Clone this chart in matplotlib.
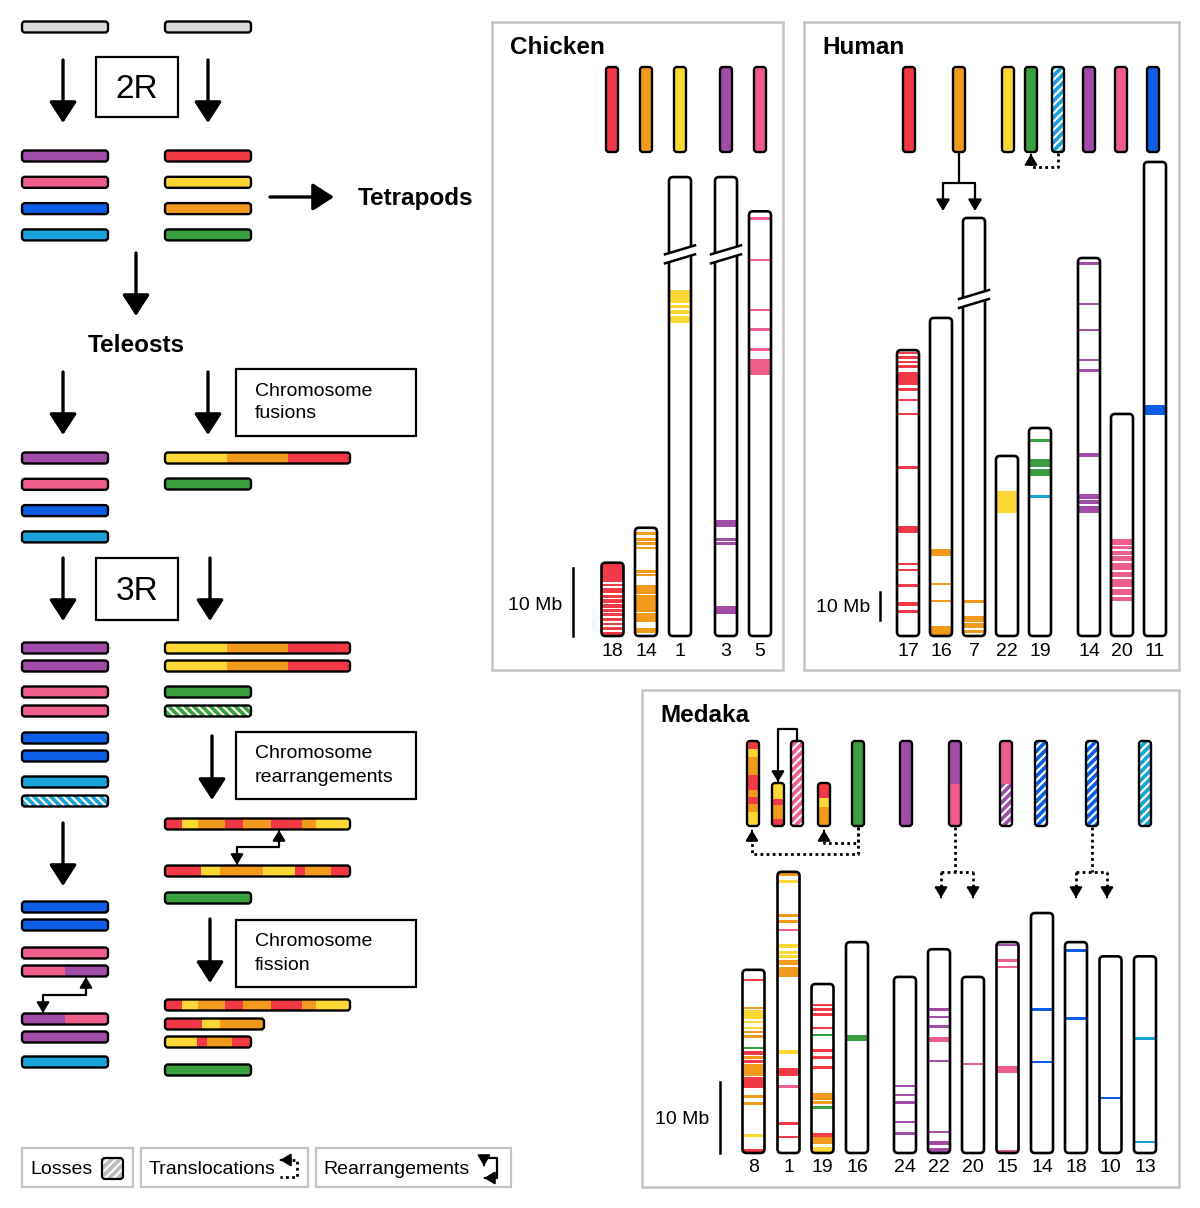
import matplotlib.pyplot as plt
from matplotlib.patches import FancyBboxPatch, Rectangle, Polygon

plt.rcParams['font.family'] = ['Liberation Sans', 'DejaVu Sans']
plt.rcParams['hatch.linewidth'] = 1.6

# colours of the ancestral chromosome groups
C = {'red': '#F13A45', 'orange': '#F19A1B', 'yellow': '#FDD733', 'green': '#3A9F3E',
     'purple': '#A04CA8', 'pink': '#EF5E8B', 'blue': '#0D5EE6', 'cyan': '#17A3D9',
     'grey': '#D9D9D9', 'lgrey': '#C4C4C4'}

# ---------------- left scheme: chromosome histories ----------------
after_2r_left = ['purple', 'pink', 'blue', 'cyan']
after_2r_right = ['red', 'yellow', 'orange', 'green']
teleost_left = ['purple', 'pink', 'blue', 'cyan']
fused = [('yellow', 1), ('orange', 1), ('red', 1)]
after_3r_left = [[('purple', 1)], [('purple', 1)], [('pink', 1)], [('pink', 1)],
                 [('blue', 1)], [('blue', 1)], [('cyan', 1)], [('cyan', 1, True)]]
rearr_a = [('red', .092), ('yellow', .085), ('orange', .145), ('red', .099),
           ('orange', .154), ('red', .168), ('orange', .073), ('yellow', .184)]
rearr_b = [('red', .195), ('yellow', .100), ('orange', .235), ('yellow', .172),
           ('red', .057), ('orange', .138), ('red', .103)]
fission_2 = [('red', .369), ('yellow', .185), ('orange', .446)]
fission_3 = [('yellow', .368), ('red', .116), ('orange', .291), ('red', .225)]
final_left = [[('blue', 1)], [('blue', 1)], [('pink', 1)], [('pink', 1), ('purple', 1)],
              [('purple', 1), ('pink', 1)], [('purple', 1)], [('cyan', 1)]]

# ---------------- chicken ----------------
chicken_top = [('red',), ('orange',), ('yellow',), ('purple',), ('pink',)]
chicken_names = ['18', '14', '1', '3', '5']
chicken_len = [10.7, 15.8, 67.0, 67.0, 62.0]      # Mb (1 and 3 shown broken)
chicken_break = [None, None, 10.7, 10.7, None]
chicken_bands = {
    '18': [(0.2, 2.8), (3.1, 3.4), (3.7, 4.4), (4.7, 5.1), (5.3, 5.9), (6.1, 6.6), (6.8, 7.2),
           (7.4, 7.8), (8.1, 8.5), (8.8, 9.1), (9.4, 9.8), (10.1, 10.55)],
    '14': [(0.6, 1.0), (1.5, 1.95), (2.05, 2.5), (2.8, 3.1), (6.2, 6.4), (6.7, 7.0), (8.3, 9.6),
           (9.75, 12.3), (12.5, 13.7), (14.6, 15.4)],
    '1': [(16.5, 18.4), (18.7, 19.1), (19.4, 20.0), (20.3, 21.3)],
    '3': [(50.1, 51.1), (52.7, 53.1), (53.3, 53.6), (62.6, 63.8)],
    '5': [(0.9, 1.3), (6.9, 7.3), (14.2, 14.6), (17.1, 17.5), (20.0, 20.3), (21.5, 23.9)],
}
chicken_color = ['red', 'orange', 'yellow', 'purple', 'pink']

# ---------------- human ----------------
human_top = [('red',), ('orange',), ('yellow',), ('green',), ('cyan', True),
             ('purple',), ('pink',), ('blue',)]
human_names = ['17', '16', '7', '22', '19', '14', '20', '11']
human_len = [102.1, 113.6, 149.3, 64.3, 74.3, 135.0, 79.3, 169.3]
human_break = [None, None, 27.5, None, None, None, None, None]
human_bands = {
    '17': [(0.6, 1.2, 'red'), (2.1, 3.0, 'red'), (3.8, 4.5, 'red'), (5.4, 6.2, 'red'),
           (7.7, 12.5, 'red'), (13.7, 14.3, 'red'), (17.3, 17.9, 'red'), (22.4, 22.9, 'red'),
           (41.4, 42.3, 'red'), (62.9, 65.2, 'red'), (76.0, 76.8, 'red'), (78.0, 78.6, 'red'),
           (83.7, 84.3, 'red'), (89.9, 91.4, 'red'), (92.9, 93.5, 'red')],
    '16': [(82.6, 85.0, 'orange'), (94.5, 95.1, 'orange'), (100.7, 101.3, 'orange'),
           (110.0, 113.6, 'orange')],
    '7': [(136.6, 137.2, 'orange'), (142.1, 144.2, 'orange'), (144.5, 146.5, 'orange'),
          (147.1, 148.3, 'orange')],
    '22': [(12.5, 20.4, 'yellow')],
    '19': [(4.1, 4.6, 'green'), (11.1, 13.9, 'green'), (14.8, 17.0, 'green'), (24.1, 24.6, 'cyan')],
    '14': [(1.5, 2.0, 'purple'), (16.0, 16.5, 'purple'), (25.2, 25.6, 'purple'),
           (36.0, 36.8, 'purple'), (39.7, 40.2, 'purple'), (69.8, 71.0, 'purple'),
           (84.2, 86.0, 'purple'), (86.4, 88.0, 'purple'), (88.4, 91.1, 'purple')],
    '20': [(44.8, 46.8, 'pink'), (47.3, 48.4, 'pink'), (48.9, 50.2, 'pink'), (50.7, 52.6, 'pink'),
           (53.2, 55.8, 'pink'), (56.4, 58.4, 'pink'), (59.0, 61.8, 'pink'), (62.4, 64.6, 'pink'),
           (65.3, 66.8, 'pink')],
    '11': [(86.8, 90.4, 'blue')],
}

# ---------------- medaka ----------------
medaka_top = [
    [('red', .09), ('yellow', .10), ('orange', .21), ('red', .18), ('orange', .08),
     ('red', .08), ('orange', .09), ('yellow', .17)],
    [('yellow', .37), ('red', .13), ('orange', .34), ('red', .16)],
    [('pink', 1, True)],
    [('red', .35), ('yellow', .2), ('orange', .45)],
    [('green', 1)],
    [('purple', 1)],
    [('purple', .5), ('pink', .5)],
    [('pink', .5), ('purple', .5, True)],
    [('blue', 1, True)],
    [('blue', 1, True)],
    [('cyan', 1, True)],
]
medaka_top_short = [False, True, False, True, False, False, False, False, False, False, False]
medaka_names = ['8', '1', '19', '16', '24', '22', '20', '15', '14', '18', '10', '13']
medaka_len = [25.8, 39.6, 23.8, 29.7, 24.8, 28.7, 24.8, 29.7, 33.8, 29.7, 27.7, 27.7]
medaka_bands = {
    '8': [(1.3, 1.6, 'red'), (5.2, 5.5, 'orange'), (5.7, 6.9, 'yellow'), (7.2, 7.5, 'yellow'),
          (8.0, 8.3, 'yellow'), (8.6, 8.9, 'orange'), (9.2, 9.6, 'orange'), (10.8, 11.05, 'green'),
          (11.5, 12.0, 'red'), (12.2, 12.6, 'orange'), (12.7, 13.1, 'red'), (13.3, 15.0, 'orange'),
          (15.1, 16.6, 'red'), (17.7, 18.0, 'orange'), (18.6, 19.1, 'orange'),
          (23.1, 23.5, 'yellow'), (25.2, 25.8, 'red')],
    '1': [(0.2, 0.6, 'orange'), (1.2, 1.4, 'yellow'), (6.0, 6.3, 'orange'), (6.8, 7.1, 'orange'),
          (8.0, 8.25, 'pink'), (10.2, 10.7, 'yellow'), (11.2, 11.4, 'yellow'),
          (11.7, 12.1, 'yellow'), (12.4, 13.1, 'orange'), (13.4, 14.8, 'orange'),
          (25.1, 25.6, 'yellow'), (27.6, 28.7, 'red'), (30.0, 30.5, 'pink'), (35.3, 35.6, 'red'),
          (37.2, 37.5, 'red')],
    '19': [(2.8, 3.1, 'red'), (3.4, 3.6, 'red'), (4.1, 4.4, 'red'), (6.0, 6.2, 'red'),
           (7.0, 7.2, 'green'), (9.2, 9.5, 'red'), (10.1, 10.5, 'red'), (11.6, 11.8, 'red'),
           (15.4, 16.3, 'orange'), (16.5, 16.8, 'orange'), (17.2, 17.5, 'green'),
           (21.0, 21.5, 'red'), (21.5, 22.5, 'orange'), (22.9, 23.6, 'yellow')],
    '16': [(13.1, 13.9, 'green')],
    '24': [(15.2, 15.5, 'purple'), (16.5, 16.8, 'purple'), (17.5, 17.8, 'purple'),
           (20.3, 20.6, 'purple'), (21.8, 22.3, 'purple')],
    '22': [(8.3, 8.6, 'purple'), (9.4, 9.7, 'purple'), (10.7, 11.0, 'purple'), (12.4, 13.0, 'pink'),
           (15.6, 15.9, 'purple'), (25.6, 25.9, 'purple'), (27.0, 27.6, 'purple'),
           (28.0, 28.7, 'purple')],
    '20': [(12.1, 12.4, 'pink')],
    '15': [(0.2, 0.5, 'purple'), (2.35, 2.8, 'pink'), (3.3, 3.5, 'pink'), (17.5, 18.4, 'pink'),
           (29.3, 29.7, 'pink')],
    '14': [(13.4, 13.7, 'blue'), (20.8, 21.1, 'blue')],
    '18': [(1.0, 1.3, 'blue'), (10.6, 10.9, 'blue')],
    '10': [(19.8, 20.1, 'blue')],
    '13': [(11.4, 11.7, 'cyan'), (26.0, 26.3, 'cyan')],
}

fig = plt.figure(figsize=(12, 12.08), dpi=100)
ax = fig.add_axes([0, 0, 1, 1])
ax.set_xlim(0, 1200)
ax.set_ylim(1208, 0)
ax.axis('off')


def rbox(x, y, w, h, r, **kw):
    return FancyBboxPatch((x, y), w, h, boxstyle=f'round,pad=0,rounding_size={r}', **kw)


def bar(x, y, w, h, segs, vertical=False, r=3, lw=1.7):
    clip = rbox(x, y, w, h, r, transform=ax.transData)
    total = sum(s[1] for s in segs)
    pos = 0
    for s in segs:
        frac = s[1] / total
        if vertical:
            box = (x, y + pos * h), w, frac * h + 0.5
        else:
            box = (x + pos * w, y), frac * w + 0.5, h
        p = Rectangle(*box, fc=C[s[0]], ec='none', lw=0, zorder=2)
        ax.add_patch(p)
        p.set_clip_path(clip)
        if len(s) > 2 and s[2]:
            hp = Rectangle(*box, fc='none', ec='white', lw=0, zorder=3,
                           hatch='////' if vertical else '\\\\\\\\')
            ax.add_patch(hp)
            hp.set_clip_path(clip)
        pos += frac
    ax.add_patch(rbox(x, y, w, h, r, fc='none', ec='k', lw=lw, zorder=4))


def hbar(x, yc, w, segs):
    bar(x, yc - 5.5, w, 11, segs)


def vbar(xc, top, bottom, segs):
    bar(xc - 6, top, 12, bottom - top, segs, vertical=True)


def chrom(xc, bottom, length, scale, bands, brk=None, w=22):
    top = bottom - length * scale
    x = xc - w / 2
    clip = rbox(x, top, w, length * scale, 4, transform=ax.transData)
    ax.add_patch(rbox(x, top, w, length * scale, 4, fc='white', ec='none', zorder=1))
    for b in bands:
        s, e, col = b
        p = Rectangle((x, top + s * scale), w, max((e - s) * scale, 2.4),
                      fc=C[col], ec='none', lw=0, zorder=2)
        ax.add_patch(p)
        p.set_clip_path(clip)
    ax.add_patch(rbox(x, top, w, length * scale, 4, fc='none', ec='k', lw=1.9, zorder=4))
    if brk is not None:
        yb = top + brk * scale
        x0, x1 = x - 4, x + w + 4
        ax.add_patch(Polygon([(x0, yb + 4), (x1, yb - 5), (x1, yb + 4), (x0, yb + 13)],
                             fc='white', ec='none', zorder=5))
        ax.plot([x0, x1], [yb + 4, yb - 5], color='k', lw=1.8, zorder=6)
        ax.plot([x0, x1], [yb + 13, yb + 4], color='k', lw=1.8, zorder=6)


def arrow(x0, y0, x1, y1, big=True, lw=None):
    if big:
        style, ms, lw = '-|>,head_length=0.65,head_width=0.42', 20, lw or 2.4
    else:
        style, ms, lw = '-|>,head_length=0.75,head_width=0.45', 9, lw or 1.6
    ax.annotate('', xy=(x1, y1), xytext=(x0, y0),
                arrowprops=dict(arrowstyle=style, mutation_scale=ms, lw=lw, color='k',
                                shrinkA=0, shrinkB=0), zorder=7)


def head(x, y, dx, dy):
    # arrow head only, pointing along (dx, dy) and ending at (x, y)
    ax.annotate('', xy=(x, y), xytext=(x - dx, y - dy),
                arrowprops=dict(arrowstyle='-|>,head_length=0.7,head_width=0.42',
                                mutation_scale=9, lw=1.5, color='k', shrinkA=0, shrinkB=0),
                zorder=7)


def path(xs, ys, dotted=False):
    ax.plot(xs, ys, color='k', lw=1.6 if not dotted else 2.0,
            ls=(0, (1, 1.2)) if dotted else '-', solid_capstyle='butt', zorder=7)


def labelbox(x, y, w, h, lines, fs=14, dy=23):
    ax.add_patch(Rectangle((x, y), w, h, fc='none', ec='k', lw=1.6, zorder=4))
    if len(lines) == 1:
        ax.text(x + w / 2, y + h / 2 + 2, lines[0], fontsize=fs, ha='center', va='center')
    else:
        for i, t in enumerate(lines):
            ax.text(x + 19, y + 22 + i * dy, t, fontsize=fs, ha='left', va='center')


# ---- left column ----
XL, XR, BW, LW = 22, 165, 86, 185
hbar(XL, 27, BW, [('grey', 1)])
hbar(XR, 27, BW, [('grey', 1)])
arrow(63, 60, 63, 123)
arrow(208, 60, 208, 123)
labelbox(96, 57, 82, 60, ['2R'], fs=24)
for i, (cl, cr) in enumerate(zip(after_2r_left, after_2r_right)):
    hbar(XL, 156 + i * 26.3, BW, [(cl, 1)])
    hbar(XR, 156 + i * 26.3, BW, [(cr, 1)])
arrow(270, 197, 334, 197)
ax.text(358, 198, 'Tetrapods', fontsize=17.5, fontweight='bold', ha='left', va='center')
arrow(136, 253, 136, 316)
ax.text(136, 346, 'Teleosts', fontsize=17.5, fontweight='bold', ha='center', va='center')
arrow(63, 372, 63, 435)
arrow(208, 372, 208, 435)
labelbox(236, 369, 180, 67, ['Chromosome', 'fusions'])
for i, cl in enumerate(teleost_left):
    hbar(XL, 458 + i * 26.3, BW, [(cl, 1)])
hbar(XR, 458, LW, fused)
hbar(XR, 484, BW, [('green', 1)])

arrow(63, 558, 63, 621)
arrow(210, 558, 210, 621)
labelbox(96, 558, 82, 62, ['3R'], fs=24)
for segs, y in zip(after_3r_left, [648, 666, 692, 711, 738, 756, 782, 801]):
    hbar(XL, y, BW, segs)
hbar(XR, 648, LW, fused)
hbar(XR, 666, LW, fused)
hbar(XR, 692, BW, [('green', 1)])
hbar(XR, 711, BW, [('green', 1, True)])

arrow(212, 736, 212, 800)
labelbox(236, 732, 180, 67, ['Chromosome', 'rearrangements'])
hbar(XR, 824, LW, rearr_a)
hbar(XR, 871, LW, rearr_b)
hbar(XR, 898, BW, [('green', 1)])
path([237, 237, 279, 279], [862, 847, 847, 833])
head(237, 865, 0, 1)
head(279, 830, 0, -1)

arrow(210, 919, 210, 983)
labelbox(236, 920, 180, 67, ['Chromosome', 'fission'])
hbar(XR, 1005, LW, rearr_a)
hbar(XR, 1024, 99, fission_2)
hbar(XR, 1042, BW, fission_3)
hbar(XR, 1070, BW, [('green', 1)])

arrow(63, 823, 63, 886)
for segs, y in zip(final_left, [907, 925, 953, 971, 1019, 1037, 1062]):
    hbar(XL, y, BW, segs)
path([43, 43, 86, 86], [1010, 995, 995, 980])
head(43, 1013, 0, 1)
head(86, 977, 0, -1)

# ---- legend ----
for x, w in [(22, 111), (141, 167), (316, 195)]:
    ax.add_patch(Rectangle((x, 1148), w, 39, fc='none', ec=C['lgrey'], lw=1.6))
ax.text(30, 1169, 'Losses', fontsize=14, va='center')
ax.add_patch(rbox(102, 1158, 21, 21, 3, fc='#BDBDBD', ec='none', zorder=2))
hp = rbox(102, 1158, 21, 21, 3, fc='none', ec='white', lw=0, hatch='////', zorder=3)
ax.add_patch(hp)
ax.add_patch(rbox(102, 1158, 21, 21, 3, fc='none', ec='k', lw=1.6, zorder=4))
ax.text(149, 1169, 'Translocations', fontsize=14, va='center')
path([286, 297, 297, 280], [1160, 1160, 1177, 1177], dotted=True)
head(280, 1160, -1, 0)
ax.text(323, 1169, 'Rearrangements', fontsize=14, va='center')
path([484, 497, 497, 488], [1158, 1158, 1178, 1178])
path([484, 484], [1158, 1161])
head(484, 1166, 0, 1)
head(484, 1178, -1, 0)

# ---- chicken panel ----
ax.add_patch(Rectangle((492, 22), 291, 648, fc='none', ec=C['lgrey'], lw=1.8))
ax.text(510, 48, 'Chicken', fontsize=17.5, fontweight='bold', va='center')
for t, xc in zip(chicken_top, [612, 646, 680, 726, 760]):
    vbar(xc, 67, 152, [(t[0], 1, len(t) > 1)])
CS = 6.85
for name, ln, brk, col, xc in zip(chicken_names, chicken_len, chicken_break, chicken_color,
                                  [612.5, 646, 680, 726, 760]):
    chrom(xc, 636, ln, CS, [(s, e, col) for s, e in chicken_bands[name]], brk)
    ax.text(xc, 651, name, fontsize=14, ha='center', va='center')
ax.plot([573, 573], [636 - 10 * CS, 636], color='k', lw=1.8)
ax.text(562, 605, '10 Mb', fontsize=14, ha='right', va='center')

# ---- human panel ----
ax.add_patch(Rectangle((804, 22), 375, 648, fc='none', ec=C['lgrey'], lw=1.8))
ax.text(822, 48, 'Human', fontsize=17.5, fontweight='bold', va='center')
for t, xc in zip(human_top, [909, 959, 1008, 1031, 1058, 1089, 1121, 1153]):
    vbar(xc, 67, 152, [(t[0], 1, len(t) > 1)])
HS = 2.8
for name, ln, brk, xc in zip(human_names, human_len, human_break,
                             [908, 941, 974, 1007, 1040, 1089, 1122, 1155]):
    chrom(xc, 636, ln, HS, human_bands[name], brk)
    ax.text(xc, 651, name, fontsize=14, ha='center', va='center')
ax.plot([880, 880], [636 - 16 - 10 * HS, 636 - 16], color='k', lw=1.8)
ax.text(870, 607, '10 Mb', fontsize=14, ha='right', va='center')
path([959, 959], [152, 183])
path([943, 975], [183, 183])
arrow(943, 183, 943, 211, big=False)
arrow(975, 183, 975, 211, big=False)
path([1058, 1058, 1031, 1031], [153, 167, 167, 157], dotted=True)
head(1031, 154, 0, -1)

# ---- medaka panel ----
ax.add_patch(Rectangle((642, 690), 537, 497, fc='none', ec=C['lgrey'], lw=1.8))
ax.text(660, 716, 'Medaka', fontsize=17.5, fontweight='bold', va='center')
for segs, short, xc in zip(medaka_top, medaka_top_short,
                           [753, 778, 797, 824, 858, 906, 955, 1006, 1041, 1092, 1145]):
    vbar(xc, 783 if short else 741, 826, segs)
MS = 7.1
for name, ln, xc in zip(medaka_names, medaka_len,
                        [753.5, 788.5, 822.5, 857, 905, 939, 973, 1007.5, 1042, 1076, 1110.5, 1145]):
    chrom(xc, 1153, ln, MS, medaka_bands[name])
    ax.text(xc, 1168, name, fontsize=14, ha='center', va='center')
ax.plot([720, 720], [1153 - 10 * MS, 1153], color='k', lw=1.8)
ax.text(709, 1120, '10 Mb', fontsize=14, ha='right', va='center')
# rearrangement inside medaka
path([797, 797, 778, 778], [741, 729, 729, 778])
head(778, 782, 0, 1)
# translocations
path([858, 858, 752, 752], [827, 854, 854, 834], dotted=True)
head(752, 830, 0, -1)
path([858, 858, 824, 824], [827, 843, 843, 834], dotted=True)
head(824, 830, 0, -1)
for xc, xa, xb in [(955, 941, 973), (1092, 1076, 1107)]:
    path([xc, xc], [827, 872], dotted=True)
    path([xa, xb], [872, 872], dotted=True)
    path([xa, xa], [872, 890], dotted=True)
    path([xb, xb], [872, 890], dotted=True)
    head(xa, 898, 0, 1)
    head(xb, 898, 0, 1)

fig.savefig('out.png', dpi=100)
